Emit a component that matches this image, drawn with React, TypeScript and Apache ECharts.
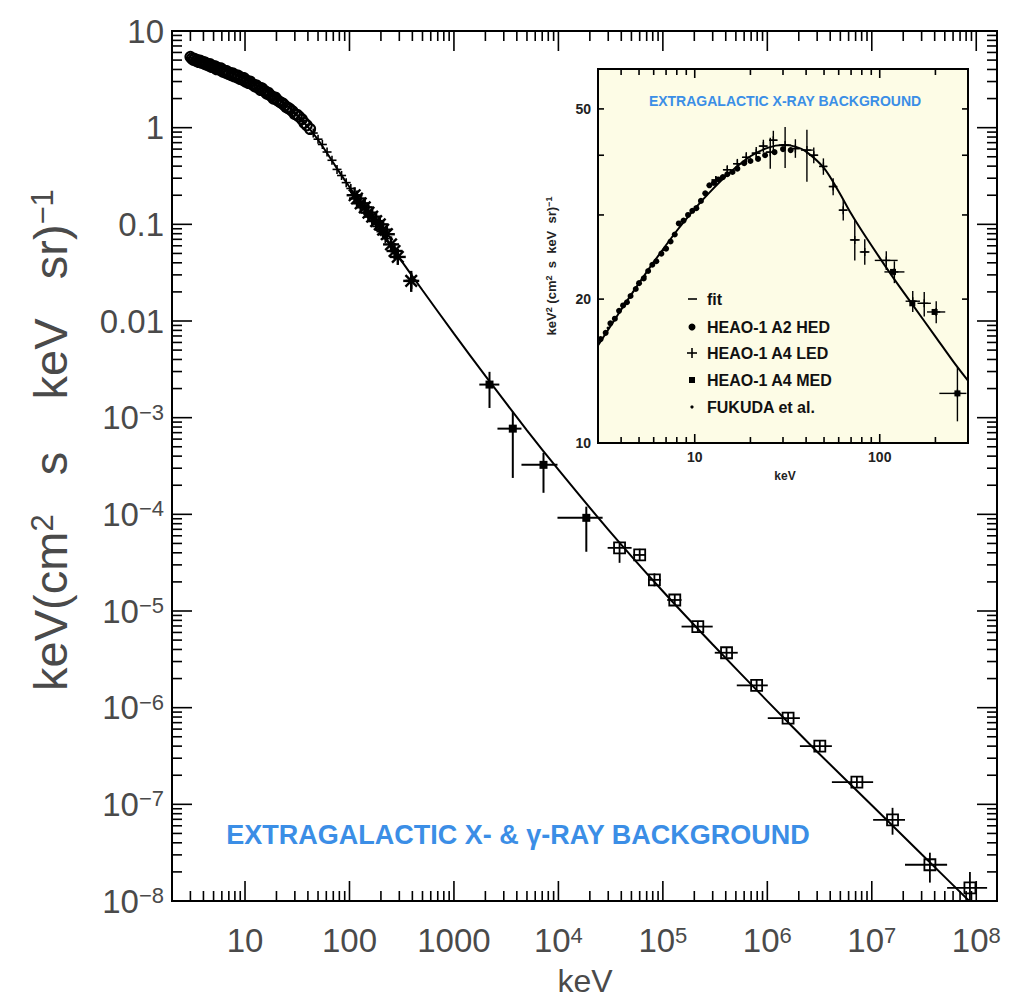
import React, { useEffect, useRef } from 'react';
import * as echarts from 'echarts';

const FONT = '"Liberation Sans", Arial, Helvetica, sans-serif';
const GRAY = '#4a4a4a';
const BLUE = '#3b8ee6';

// ---------------- axis extents & tick labels ----------------
const MAIN_X = [2, 1.58e8];
const MAIN_Y = [1e-8, 10];
const INSET_X = [3, 300];
const INSET_Y = [10, 60.6];

const mainXTickValues = [10, 100, 1000, 1e4, 1e5, 1e6, 1e7, 1e8];
const mainXTickText = ['10', '100', '1000', '10^4', '10^5', '10^6', '10^7', '10^8'];
const mainYTickValues = [10, 1, 0.1, 0.01, 1e-3, 1e-4, 1e-5, 1e-6, 1e-7, 1e-8];
const mainYTickText = ['10', '1', '0.1', '0.01', '10^−3', '10^−4', '10^−5', '10^−6', '10^−7', '10^−8'];
const insetXTickValues = [10, 100];
const insetXTickText = ['10', '100'];
const insetYTickValues = [10, 20, 50];
const insetYMajor = [20, 30, 40, 50];

// ---------------- main panel data ----------------
const fitEnergy = [3, 4, 5, 6, 8, 10, 15, 20, 25, 30, 40, 50, 60, 80, 100, 150, 200, 300, 500, 1000, 2000, 5000, 1e4, 3e4, 1e5, 3e5, 1e6, 3e6, 1e7, 3e7, 1e8];
const fitFlux = [5.33, 4.78, 4.37, 4.05, 3.55, 3.17, 2.49, 2.03, 1.69, 1.42, 1.02, 0.75, 0.56, 0.347, 0.243, 0.13, 0.0834, 0.0449, 0.0208, 0.0074, 0.0027, 7.4e-4, 2.9e-4, 6.96e-5, 1.6e-5, 4.5e-6, 1.17e-6, 3.5e-7, 9.8e-8, 3.04e-8, 8.5e-9];

const hedEnergy = [3.0, 3.1, 3.3, 3.5, 3.7, 3.9, 4.1, 4.3, 4.6, 4.9, 5.2, 5.5, 5.9, 6.3, 6.7, 7.1, 7.6, 8.1, 8.6, 9.2, 9.8, 10.5, 11.2, 12, 12.8, 13.7, 14.6, 15.6, 16.7, 18, 19.5, 21, 23, 25, 27, 30, 33, 37, 42,
  3.2, 3.4, 3.6, 3.8, 4.0, 4.2, 4.45, 4.75, 5.05, 5.35, 5.7, 6.1, 6.5, 6.9, 7.35, 7.85, 8.35, 8.9, 9.5, 10.1, 10.8, 11.6, 12.4, 13.2, 14.1, 15.1, 16.1, 17.3, 18.7, 20.2, 22, 24, 26, 28.5, 31.5, 35, 39];
const hedFlux = [5.4, 5.2, 5.15, 5.0, 4.95, 4.8, 4.75, 4.6, 4.55, 4.35, 4.3, 4.15, 4.1, 3.9, 3.85, 3.7, 3.65, 3.5, 3.45, 3.3, 3.25, 3.05, 3.0, 2.8, 2.75, 2.6, 2.55, 2.38, 2.3, 2.12, 2.05, 1.88, 1.78, 1.62, 1.55, 1.38, 1.3, 1.12, 0.97,
  5.05, 4.92, 4.78, 4.72, 4.62, 4.52, 4.42, 4.25, 4.18, 4.02, 3.98, 3.8, 3.72, 3.6, 3.5, 3.4, 3.32, 3.2, 3.12, 3.0, 2.9, 2.82, 2.68, 2.6, 2.45, 2.4, 2.25, 2.18, 2.0, 1.95, 1.82, 1.7, 1.6, 1.48, 1.36, 1.22, 1.06];

const ledEnergy = [45, 50, 55, 61, 68, 76, 84, 93, 103, 112, 125, 138, 150, 165, 182, 200, 220];
const ledFlux = [0.88, 0.76, 0.67, 0.56, 0.46, 0.37, 0.32, 0.27, 0.235, 0.2, 0.17, 0.148, 0.128, 0.114, 0.095, 0.084, 0.071];

const medEnergy = [112, 118, 128, 140, 152, 165, 180, 195, 210, 228, 250, 270, 290, 390];
const medFlux = [0.2, 0.185, 0.165, 0.15, 0.132, 0.12, 0.108, 0.1, 0.088, 0.079, 0.062, 0.053, 0.046, 0.026];
const medEnergyLo = [112, 118, 128, 140, 152, 165, 180, 195, 210, 228, 250, 270, 290, 345];
const medEnergyHi = [112, 118, 128, 140, 152, 165, 180, 195, 210, 228, 250, 270, 290, 445];
const medFluxLo = [0.2, 0.185, 0.165, 0.15, 0.132, 0.12, 0.108, 0.1, 0.088, 0.079, 0.062, 0.053, 0.046, 0.02];
const medFluxHi = [0.2, 0.185, 0.165, 0.15, 0.132, 0.12, 0.108, 0.1, 0.088, 0.079, 0.062, 0.053, 0.046, 0.033];

const comptelEnergy = [2190, 3660, 7200, 18500];
const comptelFlux = [2.2e-3, 7.7e-4, 3.25e-4, 9.2e-5];
const comptelEnergyLo = [1750, 2610, 4430, 9800];
const comptelEnergyHi = [2720, 4430, 9800, 26500];
const comptelFluxLo = [1.26e-3, 2.38e-4, 1.67e-4, 4.1e-5];
const comptelFluxHi = [2.98e-3, 1.15e-3, 4.33e-4, 1.2e-4];

const egretEnergy = [3.85e4, 6.0e4, 8.3e4, 1.3e5, 2.16e5, 4.07e5, 7.9e5, 1.58e6, 3.18e6, 7.2e6, 1.58e7, 3.6e7, 8.7e7];
const egretFlux = [4.5e-5, 3.8e-5, 2.1e-5, 1.3e-5, 6.9e-6, 3.7e-6, 1.7e-6, 7.8e-7, 4.0e-7, 1.7e-7, 6.9e-8, 2.37e-8, 1.37e-8];
const egretEnergyLo = [2.96e4, 5.2e4, 7.2e4, 1.1e5, 1.51e5, 3.14e5, 5.1e5, 1.01e6, 2.05e6, 4.15e6, 1.03e7, 2.08e7, 5.26e7];
const egretEnergyHi = [5.02e4, 6.9e4, 9.6e4, 1.51e5, 3.0e5, 5.21e5, 1.01e6, 2.05e6, 4.15e6, 1.03e7, 2.08e7, 5.26e7, 1.27e8];
const egretFluxLo = [3.15e-5, 3.3e-5, 1.8e-5, 1.15e-5, 6.1e-6, 3.3e-6, 1.5e-6, 6.9e-7, 3.5e-7, 1.5e-7, 4.85e-8, 1.55e-8, 1.0e-8];
const egretFluxHi = [5.2e-5, 4.4e-5, 2.45e-5, 1.5e-5, 7.8e-6, 4.2e-6, 1.95e-6, 8.8e-7, 4.6e-7, 1.95e-7, 9.2e-8, 3.16e-8, 2.0e-8];

// ---------------- inset data (E^2 dN/dE) ----------------
const insetFitEnergy = [3, 4, 5, 6, 8, 10, 12, 15, 20, 25, 30, 35, 40, 50, 60, 70, 80, 100, 120, 150, 200, 250, 300];
const insetFitFlux = [16.0, 19.0, 21.6, 23.9, 27.8, 30.9, 33.4, 36.4, 39.8, 41.5, 42.0, 41.7, 40.7, 37.6, 33.6, 30.2, 27.8, 24.4, 22.0, 19.5, 16.7, 14.8, 13.5];

const insetHedEnergy = [3.1, 3.3, 3.5, 3.7, 3.9, 4.1, 4.3, 4.5, 4.8, 5.0, 5.3, 5.6, 5.9, 6.2, 6.6, 7.0, 7.4, 7.8, 8.2, 8.7, 9.2, 9.7, 10.2, 10.8, 11.4, 12.0, 12.7, 13.4, 14.2, 15.0, 16.0, 17.0, 18.5, 20, 22, 24, 27, 30, 33];
const insetHedFlux = [16.5, 17.0, 17.8, 18.2, 18.9, 19.4, 19.7, 20.3, 21.0, 21.6, 22.1, 22.9, 23.6, 24.0, 24.9, 25.5, 26.4, 27.3, 28.8, 29.2, 30.0, 30.6, 31.0, 32.1, 33.3, 34.6, 35.0, 35.6, 36.0, 36.5, 36.9, 37.5, 38.5, 38.9, 39.3, 40.0, 40.6, 41.2, 41.0];

const insetLedEnergy = [13, 15, 17, 19, 21.5, 23.5, 25.6, 26.6, 30.8, 35, 40.4, 44, 49.6, 56, 63.5, 73.3, 83, 108.5, 120, 150.8, 174, 202, 263];
const insetLedFlux = [35.5, 37.3, 38.4, 39.6, 40.4, 41.8, 40.6, 43.0, 42.0, 41.3, 41.0, 40.0, 37.9, 34.4, 30.7, 26.6, 25.1, 24.1, 22.8, 19.8, 19.6, 18.8, 12.7];
const insetLedEnergyLo = [12.3, 14.2, 16.1, 18, 20.3, 22.2, 24.2, 25.2, 28.5, 33, 37.5, 41.5, 47, 53, 60, 69, 78, 94, 106, 138, 160, 180, 210];
const insetLedEnergyHi = [13.7, 15.8, 17.9, 20, 22.7, 24.8, 27.0, 28.0, 33.2, 37, 43.5, 46.5, 52, 59, 67, 78, 88, 125, 136, 165, 189, 226, 294];
const insetLedFluxLo = [34.8, 36.5, 37.5, 38.6, 39.2, 40.5, 37.5, 41.0, 37.6, 39.5, 35.2, 38.5, 36.4, 33.0, 29.2, 24.1, 23.6, 23.0, 21.6, 18.8, 18.4, 17.8, 11.1];
const insetLedFluxHi = [36.2, 38.1, 39.3, 40.6, 41.6, 43.1, 43.5, 45.0, 45.8, 43.2, 45.2, 41.5, 39.4, 35.8, 32.3, 29.3, 26.7, 25.2, 24.0, 20.8, 20.7, 19.8, 14.4];

const insetMedEnergy = [118, 150, 198, 263];
const insetMedFlux = [22.8, 19.6, 18.8, 12.7];

const fukudaEnergy = [3.4, 4.2, 5.4, 6.8];
const fukudaFlux = [17.4, 19.6, 22.3, 25.4];

// ---------------- helpers ----------------
const zip = (a: number[], b: number[]) => a.map((v, i) => [v, b[i]]);
const rows = (...cols: number[][]) => cols[0].map((_, i) => cols.map((c) => c[i]));

function richLabel(text: string) {
  const i = text.indexOf('^');
  if (i < 0) return `{b|${text}}`;
  return `{b|${text.slice(0, i)}}{s|${text.slice(i + 1)}}`;
}
function labelFormatter(values: number[], texts: string[]) {
  return (v: number) => {
    const idx = values.findIndex((t) => Math.abs(Math.log10(t) - Math.log10(v)) < 1e-6);
    return idx < 0 ? '' : richLabel(texts[idx]);
  };
}
const supRich = (base: number, sup: number, color: string) => ({
  b: { fontSize: base, lineHeight: base, color, fontFamily: FONT, padding: [Math.round(base * 0.3), 0, 0, 0], verticalAlign: 'bottom' },
  s: { fontSize: sup, lineHeight: sup, color, fontFamily: FONT, verticalAlign: 'top' },
});

function logTicks(min: number, max: number) {
  const out: [number, boolean][] = [];
  for (let k = Math.floor(Math.log10(min)); k <= Math.ceil(Math.log10(max)); k++) {
    for (let m = 1; m <= 9; m++) {
      const v = m * Math.pow(10, k);
      if (v >= min * 0.999 && v <= max * 1.001) out.push([v, m === 1]);
    }
  }
  return out;
}

type Kind = 'plus' | 'star' | 'sqOpen' | 'sqFill';
function errorRenderer(kind: Kind, size: number, lw: number) {
  return (_p: any, api: any) => {
    const e = api.value(0);
    const v = api.value(1);
    const c = api.coord([e, v]);
    const st = { stroke: '#000', lineWidth: lw };
    const line = (x1: number, y1: number, x2: number, y2: number) => ({ type: 'line', shape: { x1, y1, x2, y2 }, style: st });
    const kids: any[] = [];
    const l = api.coord([api.value(2), v]);
    const r = api.coord([api.value(3), v]);
    const lo = api.coord([e, api.value(4)]);
    const hi = api.coord([e, api.value(5)]);
    if (r[0] - l[0] > 0.5) kids.push(line(l[0], c[1], r[0], c[1]));
    if (lo[1] - hi[1] > 0.5) kids.push(line(c[0], hi[1], c[0], lo[1]));
    const h = size / 2;
    if (kind === 'plus') {
      kids.push(line(c[0] - h, c[1], c[0] + h, c[1]), line(c[0], c[1] - h, c[0], c[1] + h));
    } else if (kind === 'star') {
      const d = h * 0.72;
      kids.push(
        line(c[0] - h, c[1], c[0] + h, c[1]),
        line(c[0], c[1] - h, c[0], c[1] + h),
        line(c[0] - d, c[1] - d, c[0] + d, c[1] + d),
        line(c[0] - d, c[1] + d, c[0] + d, c[1] - d),
      );
    } else if (kind === 'sqOpen') {
      kids.push({ type: 'rect', shape: { x: c[0] - h, y: c[1] - h, width: size, height: size }, style: { fill: 'rgba(255,255,255,0)', stroke: '#000', lineWidth: lw } });
    } else {
      kids.push({ type: 'rect', shape: { x: c[0] - h, y: c[1] - h, width: size, height: size }, style: { fill: '#000' } });
    }
    return { type: 'group', children: kids };
  };
}

// tick items: [x, y, kind(0=x tick,1=y tick,2=y label), length]
function tickRenderer(xr: number[], yr: number[], labelFont: string) {
  return (_p: any, api: any) => {
    const kind = api.value(2);
    const len = api.value(3);
    const st = { stroke: '#000', lineWidth: 1.6 };
    if (kind === 0) {
      const x = api.value(0);
      const b = api.coord([x, yr[0]]);
      const t = api.coord([x, yr[1]]);
      return {
        type: 'group',
        children: [
          { type: 'line', shape: { x1: b[0], y1: b[1], x2: b[0], y2: b[1] - len }, style: st },
          { type: 'line', shape: { x1: t[0], y1: t[1], x2: t[0], y2: t[1] + len }, style: st },
        ],
      };
    }
    const y = api.value(1);
    const l = api.coord([xr[0], y]);
    const r = api.coord([xr[1], y]);
    if (kind === 2) {
      return {
        type: 'text',
        x: l[0] - 7,
        y: l[1],
        style: { text: String(y), align: 'right', verticalAlign: 'middle', font: labelFont, fill: '#222' },
      };
    }
    return {
      type: 'group',
      children: [
        { type: 'line', shape: { x1: l[0], y1: l[1], x2: l[0] + len, y2: l[1] }, style: st },
        { type: 'line', shape: { x1: r[0], y1: r[1], x2: r[0] - len, y2: r[1] }, style: st },
      ],
    };
  };
}

export default function App() {
  const ref = useRef<HTMLDivElement>(null);
  useEffect(() => {
    if (!ref.current) return;
    const chart = echarts.init(ref.current, undefined, { renderer: 'svg' });

    const mainTicks = [
      ...logTicks(MAIN_X[0], MAIN_X[1]).map(([v, M]) => [v, MAIN_Y[0], 0, M ? 20 : 10]),
      ...logTicks(MAIN_Y[0], MAIN_Y[1]).map(([v, M]) => [MAIN_X[0], v, 1, M ? 20 : 10]),
    ];
    const insetTicks = [
      ...logTicks(INSET_X[0], INSET_X[1]).map(([v, M]) => [v, INSET_Y[0], 0, M ? 9 : 6]),
      ...insetYMajor.map((v) => [INSET_X[0], v, 1, 6]),
      ...insetYTickValues.map((v) => [INSET_X[0], v, 2, 0]),
    ];

    const option: any = {
      animation: false,
      backgroundColor: '#fff',
      grid: [
        { left: 172, top: 31, width: 825, height: 870, show: true, borderColor: '#000', borderWidth: 2, backgroundColor: '#fff', z: 0 },
        { left: 598, top: 69, width: 370, height: 374, show: true, borderColor: '#000', borderWidth: 2, backgroundColor: '#fdfce6', z: 5 },
      ],
      xAxis: [
        {
          type: 'log', gridIndex: 0, min: MAIN_X[0], max: MAIN_X[1],
          axisLine: { show: false }, axisTick: { show: false }, splitLine: { show: false },
          axisLabel: { interval: 0, margin: 23, formatter: labelFormatter(mainXTickValues, mainXTickText), rich: supRich(33, 22, GRAY) },
        },
        {
          type: 'log', gridIndex: 1, min: INSET_X[0], max: INSET_X[1],
          axisLine: { show: false }, axisTick: { show: false }, splitLine: { show: false },
          axisLabel: { interval: 0, margin: 7, formatter: labelFormatter(insetXTickValues, insetXTickText), rich: { b: { fontSize: 14, fontWeight: 'bold', color: '#222', fontFamily: FONT } } },
        },
      ],
      yAxis: [
        {
          type: 'log', gridIndex: 0, min: MAIN_Y[0], max: MAIN_Y[1],
          axisLine: { show: false }, axisTick: { show: false }, splitLine: { show: false },
          axisLabel: { interval: 0, margin: 8, formatter: labelFormatter(mainYTickValues, mainYTickText), rich: supRich(33, 22, GRAY) },
        },
        {
          type: 'log', gridIndex: 1, min: INSET_Y[0], max: INSET_Y[1],
          axisLine: { show: false }, axisTick: { show: false }, splitLine: { show: false }, axisLabel: { show: false },
        },
      ],
      series: [
        { name: 'main ticks', type: 'custom', xAxisIndex: 0, yAxisIndex: 0, clip: false, silent: true, renderItem: tickRenderer(MAIN_X, MAIN_Y, ''), data: mainTicks, z: 3 },
        { name: 'main fit', type: 'line', xAxisIndex: 0, yAxisIndex: 0, data: zip(fitEnergy, fitFlux), symbol: 'none', smooth: 0.2, lineStyle: { color: '#000', width: 2 }, z: 2 },
        { name: 'main HEAO A2', type: 'scatter', xAxisIndex: 0, yAxisIndex: 0, data: zip(hedEnergy, hedFlux), symbol: 'circle', symbolSize: 10, itemStyle: { color: 'rgba(255,255,255,0)', borderColor: '#000', borderWidth: 2, opacity: 1 }, z: 3 },
        { name: 'main HEAO A4 LED', type: 'custom', xAxisIndex: 0, yAxisIndex: 0, renderItem: errorRenderer('plus', 9, 1.6), data: rows(ledEnergy, ledFlux, ledEnergy, ledEnergy, ledFlux, ledFlux), z: 3 },
        { name: 'main HEAO A4 MED', type: 'custom', xAxisIndex: 0, yAxisIndex: 0, renderItem: errorRenderer('star', 16, 2.4), data: rows(medEnergy, medFlux, medEnergyLo, medEnergyHi, medFluxLo, medFluxHi), z: 3 },
        { name: 'COMPTEL', type: 'custom', xAxisIndex: 0, yAxisIndex: 0, renderItem: errorRenderer('sqFill', 8, 2), data: rows(comptelEnergy, comptelFlux, comptelEnergyLo, comptelEnergyHi, comptelFluxLo, comptelFluxHi), z: 3 },
        { name: 'EGRET', type: 'custom', xAxisIndex: 0, yAxisIndex: 0, renderItem: errorRenderer('sqOpen', 11, 1.8), data: rows(egretEnergy, egretFlux, egretEnergyLo, egretEnergyHi, egretFluxLo, egretFluxHi), z: 3 },

        { name: 'inset ticks', type: 'custom', xAxisIndex: 1, yAxisIndex: 1, clip: false, silent: true, renderItem: tickRenderer(INSET_X, INSET_Y, `bold 14px ${FONT}`), data: insetTicks, z: 6 },
        { name: 'fit', type: 'line', xAxisIndex: 1, yAxisIndex: 1, data: zip(insetFitEnergy, insetFitFlux), symbol: 'none', smooth: 0.3, lineStyle: { color: '#000', width: 2 }, z: 6 },
        { name: 'HEAO-1 A2 HED', type: 'scatter', xAxisIndex: 1, yAxisIndex: 1, data: zip(insetHedEnergy, insetHedFlux), symbol: 'circle', symbolSize: 6, itemStyle: { color: '#000', opacity: 1 }, z: 7 },
        { name: 'HEAO-1 A4 LED', type: 'custom', xAxisIndex: 1, yAxisIndex: 1, renderItem: errorRenderer('plus', 8, 1.4), data: rows(insetLedEnergy, insetLedFlux, insetLedEnergyLo, insetLedEnergyHi, insetLedFluxLo, insetLedFluxHi), z: 7 },
        { name: 'HEAO-1 A4 MED', type: 'custom', xAxisIndex: 1, yAxisIndex: 1, renderItem: errorRenderer('sqFill', 6, 1.4), data: rows(insetMedEnergy, insetMedFlux, insetMedEnergy, insetMedEnergy, insetMedFlux, insetMedFlux), z: 7 },
        { name: 'FUKUDA et al.', type: 'scatter', xAxisIndex: 1, yAxisIndex: 1, data: zip(fukudaEnergy, fukudaFlux), symbol: 'circle', symbolSize: 3, itemStyle: { color: '#000', opacity: 1 }, z: 7 },
      ],
      graphic: [
        {
          type: 'text', x: 50, y: 440, rotation: Math.PI / 2, z: 10,
          style: {
            text: '{a|keV(cm}{s|2}{a|   s    keV   sr)}{s|−1}',
            align: 'center', verticalAlign: 'middle',
            rich: {
              a: { fontSize: 47, lineHeight: 47, fontFamily: FONT, fill: GRAY, color: GRAY, padding: [13, 0, 0, 0], verticalAlign: 'bottom' },
              s: { fontSize: 31, lineHeight: 31, fontFamily: FONT, fill: GRAY, color: GRAY, verticalAlign: 'top' },
            },
          },
        },
        { type: 'text', x: 585, y: 981, z: 10, style: { text: 'keV', font: `32px ${FONT}`, fill: GRAY, align: 'center', verticalAlign: 'middle' } },
        { type: 'text', x: 518, y: 835, z: 10, style: { text: 'EXTRAGALACTIC X- & γ-RAY BACKGROUND', font: `bold 27px ${FONT}`, fill: BLUE, align: 'center', verticalAlign: 'middle' } },
        { type: 'text', x: 785, y: 101, z: 10, style: { text: 'EXTRAGALACTIC X-RAY BACKGROUND', font: `bold 14px ${FONT}`, fill: BLUE, align: 'center', verticalAlign: 'middle' } },
        { type: 'text', x: 785, y: 476, z: 10, style: { text: 'keV', font: `bold 12px ${FONT}`, fill: '#222', align: 'center', verticalAlign: 'middle' } },
        {
          type: 'text', x: 551, y: 266, rotation: Math.PI / 2, z: 10,
          style: {
            text: '{a|keV}{s|2}{a| (cm}{s|2}{a|  s  keV  sr)}{s|−1}',
            align: 'center', verticalAlign: 'middle',
            rich: {
              a: { fontSize: 13, lineHeight: 13, fontWeight: 'bold', fontFamily: FONT, fill: '#222', color: '#222', padding: [4, 0, 0, 0], verticalAlign: 'bottom' },
              s: { fontSize: 9, lineHeight: 9, fontWeight: 'bold', fontFamily: FONT, fill: '#222', color: '#222', verticalAlign: 'top' },
            },
          },
        },
        // inset legend
        { type: 'line', z: 10, shape: { x1: 688, y1: 299, x2: 697, y2: 299 }, style: { stroke: '#000', lineWidth: 1.6 } },
        { type: 'circle', z: 10, shape: { cx: 692, cy: 327, r: 3.5 }, style: { fill: '#000' } },
        { type: 'line', z: 10, shape: { x1: 687, y1: 353, x2: 697, y2: 353 }, style: { stroke: '#000', lineWidth: 1.6 } },
        { type: 'line', z: 10, shape: { x1: 692, y1: 348, x2: 692, y2: 358 }, style: { stroke: '#000', lineWidth: 1.6 } },
        { type: 'rect', z: 10, shape: { x: 689, y: 377, width: 6, height: 6 }, style: { fill: '#000' } },
        { type: 'circle', z: 10, shape: { cx: 692, cy: 407, r: 1.6 }, style: { fill: '#000' } },
        { type: 'text', z: 10, x: 707, y: 299, style: { text: 'fit', font: `bold 16px ${FONT}`, fill: '#111', verticalAlign: 'middle' } },
        { type: 'text', z: 10, x: 707, y: 327, style: { text: 'HEAO-1 A2 HED', font: `bold 16px ${FONT}`, fill: '#111', verticalAlign: 'middle' } },
        { type: 'text', z: 10, x: 707, y: 353, style: { text: 'HEAO-1 A4 LED', font: `bold 16px ${FONT}`, fill: '#111', verticalAlign: 'middle' } },
        { type: 'text', z: 10, x: 707, y: 380, style: { text: 'HEAO-1 A4 MED', font: `bold 16px ${FONT}`, fill: '#111', verticalAlign: 'middle' } },
        { type: 'text', z: 10, x: 707, y: 407, style: { text: 'FUKUDA et al.', font: `bold 16px ${FONT}`, fill: '#111', verticalAlign: 'middle' } },
      ],
    };
    chart.setOption(option);
    return () => chart.dispose();
  }, []);
  return <div ref={ref} style={{ position: 'absolute', left: 0, top: 0, width: 1011, height: 1003 }} />;
}
